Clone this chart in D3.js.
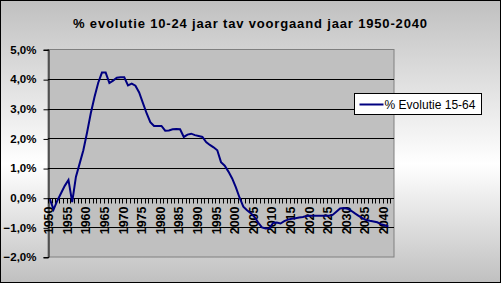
<!DOCTYPE html>
<html>
<head>
<meta charset="utf-8">
<script src="https://cdn.jsdelivr.net/npm/d3@7"></script>
<style>
  body { margin: 0; }
  text { font-family: Arial, "Liberation Sans", sans-serif; }
</style>
</head>
<body>
<div id="chart"></div>
<script>
// years on the category axis (last one is empty space like in Excel)
const years = d3.range(1950, 2043);
const labelYears = d3.range(1950, 2045, 5);
const yTicks = [-0.02, -0.01, 0, 0.01, 0.02, 0.03, 0.04, 0.05];

// % change vs previous year, 1950-2041
const values = [
  -0.05, -0.40, -0.10, 0.15, 0.40, 0.60, -0.15, 0.70, 1.15, 1.60,
  2.20, 2.85, 3.40, 3.88, 4.22, 4.22, 3.87, 3.95, 4.05, 4.06,
  4.06, 3.79, 3.85, 3.78, 3.55, 3.20, 2.85, 2.55, 2.42, 2.42,
  2.42, 2.26, 2.27, 2.31, 2.32, 2.31, 2.05, 2.13, 2.16, 2.11,
  2.08, 2.05, 1.88, 1.78, 1.70, 1.60, 1.20, 1.08, 0.88, 0.65,
  0.35, 0.00, -0.30, -0.42, -0.52, -0.65, -0.84, -1.00, -1.04, -1.03,
  -0.85, -0.84, -0.87, -0.79, -0.74, -0.71, -0.69, -0.67, -0.65, -0.62,
  -0.61, -0.61, -0.61, -0.61, -0.61, -0.61, -0.58, -0.47, -0.36, -0.35,
  -0.37, -0.44, -0.53, -0.61, -0.69, -0.75, -0.78, -0.80, -0.83, -0.89,
  -0.93, -0.97
];

const seriesName = "% Evolutie 15-64";
const title = "% evolutie 10-24 jaar tav voorgaand jaar 1950-2040";

const width = 501, height = 283;
const plot = {left: 48, right: 394, top: 49.5, bottom: 257};

const nl = d3.formatLocale({decimal: ",", thousands: ".", grouping: [3], currency: ["€", ""]});
const pct = nl.format(".1%");

const svg = d3.select("#chart").append("svg")
    .attr("width", width)
    .attr("height", height);

const grad = svg.append("defs").append("linearGradient")
    .attr("id", "bg").attr("x1", 0).attr("y1", 0).attr("x2", 0).attr("y2", 1);
grad.append("stop").attr("offset", "0%").attr("stop-color", "#c0c0c0");
grad.append("stop").attr("offset", "58%").attr("stop-color", "#ffffff");
grad.append("stop").attr("offset", "100%").attr("stop-color", "#c0c0c0");

svg.append("rect")
    .attr("x", 0.5).attr("y", 0.5)
    .attr("width", width - 1).attr("height", height - 1)
    .attr("fill", "url(#bg)")
    .attr("stroke", "#000");

svg.append("text")
    .attr("x", 250).attr("y", 28)
    .attr("text-anchor", "middle")
    .attr("font-size", "13px")
    .attr("font-weight", "bold")
    .attr("textLength", 354)
    .attr("lengthAdjust", "spacing")
    .text(title);

const x = d3.scaleBand()
    .domain(years)
    .range([plot.left, plot.right]);

const y = d3.scaleLinear()
    .domain([-0.02, 0.05])
    .range([plot.bottom, plot.top]);

svg.append("rect")
    .attr("x", plot.left).attr("y", plot.top)
    .attr("width", plot.right - plot.left)
    .attr("height", plot.bottom - plot.top)
    .attr("fill", "#c0c0c0")
    .attr("stroke", "#808080");

// gridlines
svg.append("g")
    .selectAll("line")
    .data(yTicks.filter(d => d > -0.02 && d < 0.05))
    .join("line")
    .attr("x1", plot.left).attr("x2", plot.right)
    .attr("y1", d => Math.round(y(d)) + 0.5)
    .attr("y2", d => Math.round(y(d)) + 0.5)
    .attr("stroke", "#000");

// y axis
const yAxis = svg.append("g")
    .attr("transform", `translate(${plot.left + 0.5},0)`)
    .call(d3.axisLeft(y).tickValues(yTicks).tickFormat(pct).tickSize(5).tickPadding(7))
    .call(g => g.select(".domain").attr("stroke", "#000"));
yAxis.selectAll(".tick line").attr("transform", "translate(0,0.5)");
yAxis.selectAll("text")
    .attr("font-size", "11.5px")
    .attr("font-weight", "bold")
    .attr("fill", "#000");
yAxis.attr("font-family", null);

// x axis at 0
const y0 = Math.round(y(0)) + 0.5;
const xAxis = svg.append("g").attr("transform", `translate(0,${y0})`);
xAxis.append("line")
    .attr("x1", plot.left).attr("x2", plot.right)
    .attr("stroke", "#000");
xAxis.selectAll("line.tk")
    .data(years)
    .join("line")
    .attr("class", "tk")
    .attr("x1", d => Math.round(x(d)) + 0.5)
    .attr("x2", d => Math.round(x(d)) + 0.5)
    .attr("y1", 0).attr("y2", 5)
    .attr("stroke", "#000");
xAxis.selectAll("text")
    .data(labelYears.filter(d => x(d) !== undefined))
    .join("text")
    .attr("transform", d => `translate(${x(d) + x.bandwidth() / 2 - 1},8) rotate(-90)`)
    .attr("dy", "0.35em")
    .attr("text-anchor", "end")
    .attr("font-size", "12.5px")
    .attr("font-weight", "bold")
    .text(d => d);

// the series
const line = d3.line()
    .x((d, i) => x(years[i]) + x.bandwidth() / 2)
    .y(d => y(d / 100));

svg.append("path")
    .datum(values)
    .attr("d", line)
    .attr("fill", "none")
    .attr("stroke", "#000080")
    .attr("stroke-width", 2);

// legend
const lg = svg.append("g").attr("transform", "translate(354.5,93.5)");
lg.append("rect")
    .attr("width", 127).attr("height", 21)
    .attr("fill", "#fff").attr("stroke", "#000");
lg.append("line")
    .attr("x1", 5).attr("x2", 29).attr("y1", 11).attr("y2", 11)
    .attr("stroke", "#000080").attr("stroke-width", 2);
lg.append("text")
    .attr("x", 30).attr("y", 15)
    .attr("font-size", "12px")
    .attr("textLength", 91)
    .attr("lengthAdjust", "spacing")
    .text(seriesName);
</script>
</body>
</html>
